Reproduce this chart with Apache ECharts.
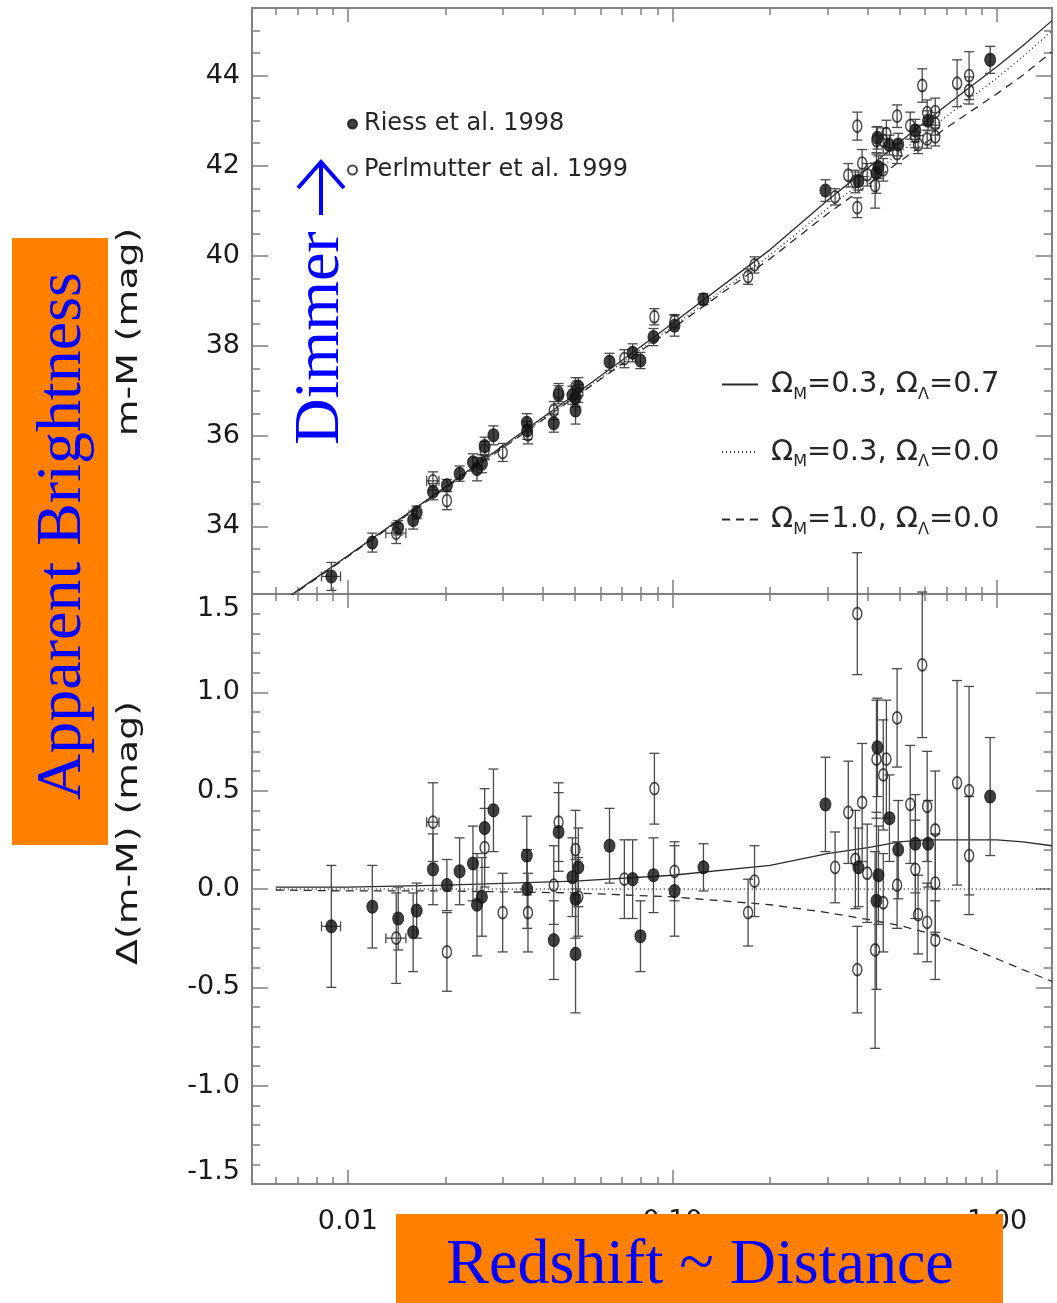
<!DOCTYPE html>
<html>
<head>
<meta charset="utf-8">
<script src="https://cdn.jsdelivr.net/npm/echarts@6/dist/echarts.min.js"></script>
<style>
  html, body { margin: 0; padding: 0; background: #fff; }
  #chart { width: 1057px; height: 1303px; }
</style>
</head>
<body>
<div id="chart"></div>
<script>
// x range of both panels (redshift, log axis)
const zMin = 0.00507
const zMax = 1.476

// Riess et al. 1998 (filled circles)
const riessZ = [0.0089, 0.0119, 0.0143, 0.0163, 0.0159, 0.0183, 0.0202, 0.0221, 0.0243, 0.0250, 0.0259, 0.0264, 0.0281, 0.0356, 0.0357, 0.0431, 0.0446, 0.0492, 0.0503, 0.0503, 0.0513, 0.064, 0.0754, 0.0797, 0.0874, 0.1015, 0.1246, 0.296, 0.374, 0.428, 0.466, 0.425, 0.431, 0.496, 0.560, 0.613, 0.952]
const riessZErr = [0.0006, 0, 0, 0, 0, 0, 0, 0, 0, 0, 0, 0, 0, 0, 0, 0, 0, 0, 0, 0, 0, 0, 0, 0, 0, 0, 0, 0, 0, 0, 0, 0, 0, 0, 0, 0, 0]
const riessMu = [32.89, 33.64, 33.97, 34.31, 34.14, 34.77, 34.91, 35.17, 35.42, 35.27, 35.39, 35.78, 36.02, 36.30, 36.13, 36.29, 36.92, 36.91, 36.85, 36.57, 37.10, 37.65, 37.85, 37.68, 38.20, 38.45, 39.04, 41.45, 41.66, 42.62, 42.46, 41.84, 41.97, 42.47, 42.78, 43.00, 44.35]
const riessDm = [-0.19, -0.09, -0.15, -0.11, -0.22, 0.10, 0.02, 0.09, 0.13, -0.08, -0.04, 0.31, 0.40, 0.17, 0.00, -0.26, 0.29, 0.06, -0.05, -0.33, 0.11, 0.22, 0.05, -0.24, 0.07, -0.01, 0.11, 0.43, 0.11, 0.72, 0.36, -0.06, 0.07, 0.20, 0.23, 0.23, 0.47]
const riessErr = [0.31, 0.21, 0.16, 0.14, 0.20, 0.18, 0.13, 0.17, 0.19, 0.26, 0.20, 0.20, 0.21, 0.20, 0.20, 0.20, 0.20, 0.20, 0.20, 0.30, 0.20, 0.19, 0.20, 0.18, 0.19, 0.23, 0.12, 0.24, 0.20, 0.25, 0.22, 0.45, 0.25, 0.25, 0.25, 0.22, 0.30]

// Perlmutter et al. 1999 (open circles)
const perlZ = [0.0141, 0.0183, 0.0202, 0.0264, 0.030, 0.0359, 0.0431, 0.0446, 0.0503, 0.0513, 0.0711, 0.088, 0.1015, 0.171, 0.179, 0.317, 0.348, 0.366, 0.371, 0.384, 0.371, 0.425, 0.456, 0.446, 0.421, 0.398, 0.446, 0.492, 0.492, 0.540, 0.560, 0.588, 0.609, 0.645, 0.645, 0.571, 0.609, 0.645, 0.753, 0.820, 0.820]
const perlZErr = [0.001, 0.0008, 0, 0, 0, 0, 0, 0, 0, 0, 0, 0, 0, 0, 0, 0, 0, 0, 0, 0, 0, 0, 0, 0, 0, 0, 0, 0, 0, 0, 0, 0, 0, 0, 0, 0, 0, 0, 0, 0, 0]
const perlMu = [33.85, 35.01, 34.57, 35.68, 35.64, 36.03, 36.57, 36.97, 37.10, 36.95, 37.72, 38.65, 38.55, 39.54, 39.80, 41.31, 41.79, 41.65, 42.88, 42.06, 41.07, 42.56, 42.71, 42.56, 41.56, 41.80, 41.91, 43.10, 42.27, 42.89, 42.65, 43.78, 43.18, 43.20, 42.93, 42.47, 42.59, 42.64, 43.83, 44.00, 43.67]
const perlDm = [-0.25, 0.34, -0.32, 0.21, -0.12, -0.12, 0.02, 0.34, 0.20, -0.04, 0.05, 0.51, 0.09, -0.12, 0.04, 0.11, 0.39, 0.15, 1.40, 0.44, -0.41, 0.66, 0.66, 0.58, -0.31, 0.08, -0.07, 0.87, 0.02, 0.43, 0.10, 1.14, 0.42, 0.30, 0.03, -0.13, -0.17, -0.26, 0.54, 0.50, 0.17]
const perlErr = [0.23, 0.20, 0.20, 0.20, 0.20, 0.20, 0.20, 0.20, 0.20, 0.20, 0.20, 0.18, 0.15, 0.17, 0.18, 0.18, 0.26, 0.25, 0.31, 0.30, 0.22, 0.30, 0.30, 0.28, 0.50, 0.25, 0.25, 0.25, 0.22, 0.30, 0.25, 0.37, 0.28, 0.30, 0.25, 0.20, 0.20, 0.20, 0.52, 0.53, 0.30]

// model curves
const modelZ = [0.006, 0.01, 0.02, 0.05, 0.1, 0.2, 0.3, 0.4, 0.5, 0.6, 0.7, 0.8, 1.0, 1.2, 1.476]
const muLambda = [32.24, 33.35, 34.88, 36.92, 38.50, 40.14, 41.23, 41.95, 42.52, 42.97, 43.35, 43.67, 44.20, 44.66, 45.22]
const muOpen = [32.23, 33.34, 34.86, 36.88, 38.43, 40.02, 41.05, 41.74, 42.28, 42.72, 43.10, 43.42, 43.95, 44.42, 45.00]
const muFlat = [32.22, 33.33, 34.85, 36.86, 38.39, 39.94, 40.93, 41.58, 42.09, 42.50, 42.85, 43.13, 43.60, 44.01, 44.53]
const dmLambda = [0.01, 0.01, 0.02, 0.04, 0.07, 0.12, 0.18, 0.21, 0.24, 0.25, 0.25, 0.25, 0.25, 0.24, 0.22]
const dmOpen = [0, 0, 0, 0, 0, 0, 0, 0, 0, 0, 0, 0, 0, 0, 0]
const dmFlat = [-0.005, -0.01, -0.01, -0.02, -0.04, -0.08, -0.12, -0.155, -0.185, -0.22, -0.255, -0.29, -0.355, -0.41, -0.47]

// tick positions
const zMajor = [0.01, 0.1, 1]
const zMinor = [0.006, 0.007, 0.008, 0.009, 0.02, 0.03, 0.04, 0.05, 0.06, 0.07, 0.08, 0.09, 0.2, 0.3, 0.4, 0.5, 0.6, 0.7, 0.8, 0.9]
const muMajor = [34, 36, 38, 40, 42, 44]
const muMinor = [33, 33.5, 34.5, 35, 35.5, 36.5, 37, 37.5, 38.5, 39, 39.5, 40.5, 41, 41.5, 42.5, 43, 43.5, 44.5, 45]
const dmMajor = [-1.5, -1, -0.5, 0, 0.5, 1, 1.5]
const dmMinor = [-1.4, -1.3, -1.2, -1.1, -0.9, -0.8, -0.7, -0.6, -0.4, -0.3, -0.2, -0.1, 0.1, 0.2, 0.3, 0.4, 0.6, 0.7, 0.8, 0.9, 1.1, 1.2, 1.3, 1.4]

const frameColor = '#808080'
const inkColor = '#1a1a1a'
const plotFont = 'DejaVu Sans'

// grid 0: m-M panel, grid 1: residual panel
const grids = [
  { left: 252, top: 8, width: 800, height: 586 },
  { left: 252, top: 594, width: 800, height: 590 }
]

// tick-only x axes (log10 space, same extent as the log data axes)
function xTicks(gridIndex, position, values, len, labels) {
  const logs = values.map((v) => Math.log10(v))
  return {
    type: 'value',
    gridIndex: gridIndex,
    position: position,
    min: Math.log10(zMin),
    max: Math.log10(zMax),
    axisLine: { show: true, onZero: false, lineStyle: { color: frameColor, width: 2 } },
    axisTick: { show: true, inside: true, length: len, customValues: logs, lineStyle: { color: frameColor, width: 1.5 } },
    axisLabel: labels
      ? {
          show: true,
          customValues: logs,
          margin: 24,
          color: inkColor,
          fontFamily: plotFont,
          fontSize: 27,
          formatter: (v) => Math.pow(10, v).toFixed(2)
        }
      : { show: false },
    splitLine: { show: false }
  }
}

function yTicks(gridIndex, position, min, max, values, len, label) {
  return {
    type: 'value',
    gridIndex: gridIndex,
    position: position,
    min: min,
    max: max,
    axisLine: { show: true, onZero: false, lineStyle: { color: frameColor, width: 2 } },
    axisTick: { show: true, inside: true, length: len, customValues: values, lineStyle: { color: frameColor, width: 1.5 } },
    axisLabel: label ? Object.assign({ show: true, customValues: values }, label) : { show: false },
    splitLine: { show: false }
  }
}

const labelBase = { margin: 12, color: inkColor, fontFamily: plotFont, fontSize: 27 }

const xAxes = [
  { type: 'log', logBase: 10, gridIndex: 0, min: zMin, max: zMax, show: false },
  { type: 'log', logBase: 10, gridIndex: 1, min: zMin, max: zMax, show: false },
  xTicks(0, 'bottom', zMajor, 14, false),
  xTicks(0, 'bottom', zMinor, 7, false),
  xTicks(0, 'top', zMajor, 14, false),
  xTicks(0, 'top', zMinor, 7, false),
  xTicks(1, 'bottom', zMajor, 14, true),
  xTicks(1, 'bottom', zMinor, 7, false),
  xTicks(1, 'top', zMajor, 14, false),
  xTicks(1, 'top', zMinor, 7, false)
]

const yAxes = [
  yTicks(0, 'left', 32.5, 45.5, muMajor, 16, Object.assign({}, labelBase, { formatter: (v) => String(v) })),
  yTicks(0, 'left', 32.5, 45.5, muMinor, 8, null),
  yTicks(0, 'right', 32.5, 45.5, muMajor, 16, null),
  yTicks(0, 'right', 32.5, 45.5, muMinor, 8, null),
  yTicks(1, 'left', -1.5, 1.5, dmMajor, 16, Object.assign({}, labelBase, {
    formatter: (v) => (v === 1.5 ? '{lo|1.5}' : v === -1.5 ? '{hi|-1.5}' : v.toFixed(1)),
    rich: {
      lo: { padding: [30, 0, 0, 0], color: inkColor, fontFamily: plotFont, fontSize: 27 },
      hi: { padding: [0, 0, 24, 0], color: inkColor, fontFamily: plotFont, fontSize: 27 }
    }
  })),
  yTicks(1, 'left', -1.5, 1.5, dmMinor, 8, null),
  yTicks(1, 'right', -1.5, 1.5, dmMajor, 16, null),
  yTicks(1, 'right', -1.5, 1.5, dmMinor, 8, null)
]

// error bars with caps (vertical, plus horizontal where given)
function renderErr(params, api) {
  const z = api.value(0)
  const y = api.value(1)
  const e = api.value(2)
  const ze = api.value(3)
  const style = { stroke: '#4a4a4a', lineWidth: 1.3 }
  const cap = 5
  const top = api.coord([z, y + e])
  const bot = api.coord([z, y - e])
  const kids = [
    { type: 'line', shape: { x1: top[0], y1: top[1], x2: bot[0], y2: bot[1] }, style: style },
    { type: 'line', shape: { x1: top[0] - cap, y1: top[1], x2: top[0] + cap, y2: top[1] }, style: style },
    { type: 'line', shape: { x1: bot[0] - cap, y1: bot[1], x2: bot[0] + cap, y2: bot[1] }, style: style }
  ]
  if (ze > 0) {
    const l = api.coord([z - ze, y])
    const r = api.coord([z + ze, y])
    kids.push({ type: 'line', shape: { x1: l[0], y1: l[1], x2: r[0], y2: r[1] }, style: style })
    kids.push({ type: 'line', shape: { x1: l[0], y1: l[1] - cap, x2: l[0], y2: l[1] + cap }, style: style })
    kids.push({ type: 'line', shape: { x1: r[0], y1: r[1] - cap, x2: r[0], y2: r[1] + cap }, style: style })
  }
  return { type: 'group', children: kids }
}

function pairs(xs, ys) {
  return xs.map((x, i) => [x, ys[i]])
}
function errData(xs, ys, es, zes) {
  return xs.map((x, i) => [x, ys[i], es[i], zes[i]])
}

const nameLambda = 'lambda'
const nameOpen = 'open'
const nameFlat = 'flat'
const legendText = {
  lambda: '{a|Ω}{s|M}{a|=0.3, Ω}{s|Λ}{a|=0.7}',
  open: '{a|Ω}{s|M}{a|=0.3, Ω}{s|Λ}{a|=0.0}',
  flat: '{a|Ω}{s|M}{a|=1.0, Ω}{s|Λ}{a|=0.0}'
}

function curve(name, data, xi, yi, type) {
  return {
    name: name,
    type: 'line',
    xAxisIndex: xi,
    yAxisIndex: yi,
    data: data,
    symbol: 'none',
    showSymbol: false,
    clip: true,
    silent: true,
    color: '#2b2b2b',
    itemStyle: { color: '#2b2b2b' },
    lineStyle: { color: '#2b2b2b', width: 1.3, type: type },
    z: 3
  }
}

function errSeries(name, data, xi, yi) {
  return {
    name: name,
    type: 'custom',
    xAxisIndex: xi,
    yAxisIndex: yi,
    renderItem: renderErr,
    encode: { x: 0, y: 1 },
    data: data,
    silent: true,
    z: 4
  }
}

function dots(name, data, xi, yi, open) {
  return {
    name: name,
    type: 'scatter',
    xAxisIndex: xi,
    yAxisIndex: yi,
    data: data,
    symbol: 'circle',
    symbolSize: open ? [9, 12] : [11, 13],
    itemStyle: open
      ? { color: 'rgba(255,255,255,0)', borderColor: '#1a1a1a', borderWidth: 1.6 }
      : { color: '#111', borderColor: '#111', borderWidth: 1 },
    z: 5
  }
}

const series = [
  curve(nameLambda, pairs(modelZ, muLambda), 0, 0, 'solid'),
  curve(nameOpen, pairs(modelZ, muOpen), 0, 0, [1, 3]),
  curve(nameFlat, pairs(modelZ, muFlat), 0, 0, [8, 6]),
  curve(nameLambda, pairs(modelZ, dmLambda), 1, 4, 'solid'),
  curve(nameOpen, pairs(modelZ, dmOpen), 1, 4, [1, 3]),
  curve(nameFlat, pairs(modelZ, dmFlat), 1, 4, [8, 6]),
  errSeries('riessErrTop', errData(riessZ, riessMu, riessErr, riessZErr), 0, 0),
  errSeries('perlErrTop', errData(perlZ, perlMu, perlErr, perlZErr), 0, 0),
  errSeries('riessErrRes', errData(riessZ, riessDm, riessErr, riessZErr), 1, 4),
  errSeries('perlErrRes', errData(perlZ, perlDm, perlErr, perlZErr), 1, 4),
  dots('Riess et al. 1998', pairs(riessZ, riessMu), 0, 0, false),
  dots('Perlmutter et al. 1999', pairs(perlZ, perlMu), 0, 0, true),
  dots('Riess et al. 1998', pairs(riessZ, riessDm), 1, 4, false),
  dots('Perlmutter et al. 1999', pairs(perlZ, perlDm), 1, 4, true)
]

const blue = '#0000ff'
const orange = '#ff7f00'
const serif = '"Liberation Serif", "DejaVu Serif", serif'

const options = {
  animation: false,
  backgroundColor: '#ffffff',
  grid: grids,
  xAxis: xAxes,
  yAxis: yAxes,
  legend: [
    {
      data: ['Riess et al. 1998', 'Perlmutter et al. 1999'],
      orient: 'vertical',
      left: 342,
      top: 107,
      itemWidth: 9,
      itemHeight: 10,
      itemGap: 22,
      selectedMode: false,
      textStyle: { color: '#262626', fontFamily: plotFont, fontSize: 24, padding: [0, 0, 0, 2] }
    },
    {
      data: [nameLambda, nameOpen, nameFlat],
      orient: 'vertical',
      left: 716,
      top: 365,
      itemWidth: 36,
      itemHeight: 14,
      itemGap: 35,
      selectedMode: false,
      itemStyle: { opacity: 0 },
      formatter: (name) => legendText[name],
      textStyle: {
        color: '#262626',
        padding: [0, 0, 0, 8],
        rich: {
          a: { fontFamily: plotFont, fontSize: 29, lineHeight: 36, color: '#262626' },
          s: { fontFamily: plotFont, fontSize: 16, lineHeight: 36, verticalAlign: 'bottom', color: '#262626' }
        }
      }
    }
  ],
  series: series,
  graphic: [
    {
      type: 'text',
      x: 130,
      y: 332,
      rotation: Math.PI / 2,
      scaleX: 1.35,
      style: { text: 'm-M (mag)', font: '28px "DejaVu Sans"', fill: inkColor, align: 'center', verticalAlign: 'middle' },
      z: 50
    },
    {
      type: 'text',
      x: 130,
      y: 833,
      rotation: Math.PI / 2,
      scaleX: 1.35,
      style: { text: 'Δ(m-M) (mag)', font: '28px "DejaVu Sans"', fill: inkColor, align: 'center', verticalAlign: 'middle' },
      z: 50
    },
    {
      type: 'rect',
      shape: { x: 12, y: 238, width: 96, height: 607 },
      style: { fill: orange },
      z: 90
    },
    {
      type: 'text',
      x: 63,
      y: 536,
      rotation: Math.PI / 2,
      style: { text: 'Apparent Brightness', font: '64px ' + serif, fill: blue, align: 'center', verticalAlign: 'middle' },
      z: 91
    },
    {
      type: 'text',
      x: 321,
      y: 338,
      rotation: Math.PI / 2,
      style: { text: 'Dimmer', font: '64px ' + serif, fill: blue, align: 'center', verticalAlign: 'middle' },
      z: 91
    },
    {
      // the up arrow next to "Dimmer"
      type: 'group',
      z: 91,
      children: [
        { type: 'line', shape: { x1: 321, y1: 215, x2: 321, y2: 163 }, style: { stroke: blue, lineWidth: 4 }, z: 91 },
        { type: 'polyline', shape: { points: [[298, 188], [321, 162], [344, 188]] }, style: { stroke: blue, lineWidth: 4, fill: null }, z: 91 }
      ]
    },
    {
      type: 'rect',
      shape: { x: 396, y: 1214, width: 607, height: 89 },
      style: { fill: orange },
      z: 90
    },
    {
      type: 'text',
      x: 700,
      y: 1266,
      style: { text: 'Redshift ~ Distance', font: '64px ' + serif, fill: blue, align: 'center', verticalAlign: 'middle' },
      z: 91
    }
  ]
}

const chart = echarts.init(document.getElementById('chart'), null, { renderer: 'canvas' })
chart.setOption(options)
</script>
</body>
</html>
